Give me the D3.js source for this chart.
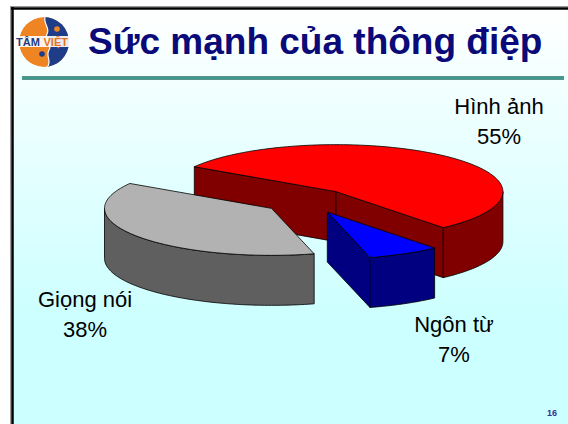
<!DOCTYPE html>
<html>
<head>
<meta charset="utf-8">
<script src="https://cdn.jsdelivr.net/npm/d3@7"></script>
<style>
  body { margin: 0; background: #fff; }
  svg { display: block; font-family: "Liberation Sans", Arial, sans-serif; }
</style>
</head>
<body>
<div id="container"></div>
<script>
/* CONSTANTS AND GLOBALS */
const width = 568;
const height = 424;

/* DATA */
const categories = ["Hình ảnh", "Ngôn từ", "Giọng nói"];
const shares = [55, 7, 38];
const shareLabels = ["55%", "7%", "38%"];

const title = "Sức mạnh của thông điệp";
const pageNumber = "16";

/* pie geometry (ellipse seen at an angle) */
const cx = 307, cy = 201;      // centre before explosion
const rx = 167, ry = 47;       // ellipse radii
const depth = 50;              // thickness of the pie
const explode = 0.264;         // share of the radius each slice is pulled out

const topColor = d3.scaleOrdinal()
  .domain(categories)
  .range(["#ff0000", "#0000ff", "#b2b2b2"]);
const sideColor = d3.scaleOrdinal()
  .domain(categories)
  .range(["#800000", "#000080", "#5f5f5f"]);

const svg = d3.select("#container")
  .append("svg")
  .attr("width", width)
  .attr("height", height);

/* background of the slide */
const defs = svg.append("defs");
const grad = defs.append("linearGradient")
  .attr("id", "bg")
  .attr("x1", 0).attr("y1", 0).attr("x2", 0).attr("y2", 1);
grad.append("stop").attr("offset", "0%").attr("stop-color", "#ffffff");
grad.append("stop").attr("offset", "75%").attr("stop-color", "#ccffff");

svg.append("rect")
  .attr("x", 12).attr("y", 8)
  .attr("width", width - 12).attr("height", height - 8)
  .attr("fill", "url(#bg)");

// frame
svg.append("line").attr("x1", 10.5).attr("x2", 10.5).attr("y1", 7).attr("y2", height)
  .attr("stroke", "#9a9a9a").attr("stroke-width", 1);
svg.append("line").attr("x1", 10).attr("x2", width).attr("y1", 6.5).attr("y2", 6.5)
  .attr("stroke", "#9a9a9a").attr("stroke-width", 1);
svg.append("line").attr("x1", 12.5).attr("x2", 12.5).attr("y1", 7).attr("y2", height)
  .attr("stroke", "#000").attr("stroke-width", 2.5);
svg.append("line").attr("x1", 11).attr("x2", width).attr("y1", 8.5).attr("y2", 8.5)
  .attr("stroke", "#000").attr("stroke-width", 2.5);

/* logo */
const logo = svg.append("g").attr("transform", "translate(44,42)");
logo.append("clipPath").attr("id", "globe")
  .append("circle").attr("r", 25);
const globe = logo.append("g").attr("clip-path", "url(#globe)");
globe.append("circle").attr("r", 25).attr("fill", "#ee8422");
globe.append("path")
  .attr("d", "M2,-27 C-3,-19 7,-15 3,-8 C0,-3 9,2 5,8 C1,14 9,19 2,27 L30,27 L30,-27 Z")
  .attr("fill", "#1f3c88");
globe.append("path")
  .attr("d", "M2,-27 C-3,-19 7,-15 3,-8 C0,-3 9,2 5,8 C1,14 9,19 2,27")
  .attr("fill", "none").attr("stroke", "#ffffff").attr("stroke-width", 1.2);
logo.append("circle").attr("cx", -2).attr("cy", 12).attr("r", 2.8).attr("fill", "#1f3c88");
logo.append("circle").attr("cx", 13).attr("cy", -13).attr("r", 2.8).attr("fill", "#ee8422");
logo.append("rect").attr("x", -28).attr("y", -6).attr("width", 58).attr("height", 11)
  .attr("fill", "#ffffff").attr("opacity", 0.9);
logo.append("text").attr("x", -28).attr("y", 4)
  .attr("font-size", 11).attr("font-weight", "bold").attr("fill", "#1f3c88")
  .text("TÂM");
logo.append("text").attr("x", -0.5).attr("y", 4)
  .attr("font-size", 11).attr("font-weight", "bold").attr("fill", "#e8731a")
  .text("VIỆT");

/* title */
svg.append("text")
  .attr("x", 88).attr("y", 54)
  .attr("font-size", 37).attr("font-weight", "bold").attr("fill", "#0a0a78")
  .text(title);

// rule under the title
svg.append("line").attr("x1", 22).attr("x2", 564).attr("y1", 78).attr("y2", 78)
  .attr("stroke", "#2a6e66").attr("stroke-width", 3.4);
svg.append("line").attr("x1", 22).attr("x2", 564).attr("y1", 78).attr("y2", 78)
  .attr("stroke", "#3f9a8e").attr("stroke-width", 1.8);

/* PIE */
const pie = d3.pie()
  .sort(null)
  .value(d => d.value)
  .startAngle(302 * Math.PI / 180)
  .endAngle(662 * Math.PI / 180);

const slices = pie(categories.map((c, i) => ({ name: c, value: shares[i], label: shareLabels[i] })));

// d3 angle (0 at 12 o'clock) -> screen angle (0 at 3 o'clock)
const toScreen = a => a - Math.PI / 2;

slices.forEach(s => {
  s.t0 = toScreen(s.startAngle);
  s.t1 = toScreen(s.endAngle);
  const mid = (s.t0 + s.t1) / 2;
  s.c = [cx + explode * rx * Math.cos(mid), cy + explode * ry * Math.sin(mid)];
});

const rim = (c, t, dy = 0) => [c[0] + rx * Math.cos(t), c[1] + ry * Math.sin(t) + dy];
const arcPts = (c, a, b, dy = 0) => {
  const n = Math.max(2, Math.ceil(Math.abs(b - a) / 0.02));
  return d3.range(n + 1).map(i => rim(c, a + (b - a) * i / n, dy));
};
const line = d3.line();

const pieG = svg.append("g")
  .attr("stroke", "#000")
  .attr("stroke-width", 0.8)
  .attr("stroke-linejoin", "round");

// paint back slices first
slices.slice().sort((a, b) => a.c[1] - b.c[1]).forEach(s => {
  const g = pieG.append("g");
  const c = s.c;
  const side = sideColor(s.data.name);

  // radial faces
  if (Math.cos(s.t0) < 0) {
    const p = rim(c, s.t0);
    g.append("path").attr("fill", side)
      .attr("d", line([c, p, [p[0], p[1] + depth], [c[0], c[1] + depth]]) + "Z");
  }
  if (Math.cos(s.t1) > 0) {
    const p = rim(c, s.t1);
    g.append("path").attr("fill", side)
      .attr("d", line([c, p, [p[0], p[1] + depth], [c[0], c[1] + depth]]) + "Z");
  }

  // outer wall, only the front half of the ellipse is seen
  for (let k = -1; k <= 2; k++) {
    const a = Math.max(s.t0, k * 2 * Math.PI);
    const b = Math.min(s.t1, k * 2 * Math.PI + Math.PI);
    if (b > a + 1e-6) {
      const pts = arcPts(c, a, b).concat(arcPts(c, b, a, depth));
      g.append("path").attr("fill", side).attr("d", line(pts) + "Z");
    }
  }

  // top face
  g.append("path")
    .attr("fill", topColor(s.data.name))
    .attr("d", line([c].concat(arcPts(c, s.t0, s.t1))) + "Z");
});

/* LABELS */
const labelPos = {
  "Hình ảnh": [499, 114],
  "Ngôn từ": [454, 332],
  "Giọng nói": [85, 307]
};
const labelG = svg.append("g")
  .attr("font-size", 22)
  .attr("fill", "#000")
  .attr("text-anchor", "middle");
slices.forEach(s => {
  const [x, y] = labelPos[s.data.name];
  const t = labelG.append("text").attr("x", x).attr("y", y);
  t.append("tspan").attr("x", x).text(s.data.name);
  t.append("tspan").attr("x", x).attr("dy", 30).text(s.data.label);
});

/* page number */
svg.append("text")
  .attr("x", 552).attr("y", 416)
  .attr("text-anchor", "middle")
  .attr("font-size", 9).attr("font-weight", "bold").attr("fill", "#33338a")
  .text(pageNumber);
</script>
</body>
</html>
